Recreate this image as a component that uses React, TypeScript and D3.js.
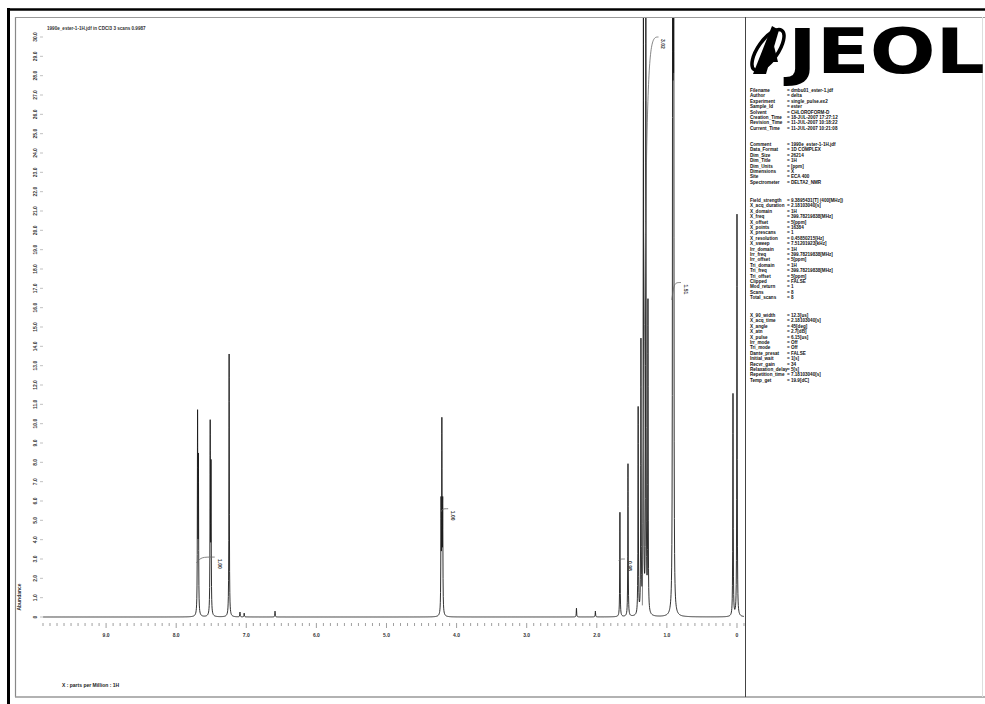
import * as d3 from 'd3';
import { useMemo } from 'react';

// peak list (ppm, abundance)
const peakPpm = [7.695, 7.683, 7.515, 7.503, 7.245, 7.09, 7.03, 6.59, 4.222, 4.21, 4.198, 2.29, 2.02,
  1.67, 1.555, 1.41, 1.37, 1.335, 1.30, 1.27, 0.918, 0.91, 0.902, 0.057, 0.0];
const peakHeight = [10.2, 7.8, 9.7, 7.5, 13.6, 0.25, 0.2, 0.3, 5.5, 9.6, 5.5, 0.45, 0.3,
  5.4, 7.9, 10.7, 14, 32, 32, 16, 30, 36, 30, 11.5, 20.8];
const peakHalfWidth = 0.0032;

// integral marks
const integralStart = [7.71, 4.23, 1.69, 1.35, 0.93];
const integralEnd = [7.45, 4.12, 1.6, 1.12, 0.8];
const integralBase = [2.8, 5.4, 2.9, 0.6, 16.4];
const integralTop = [3.1, 5.6, 3.0, 30, 17.3];
const integralLabel = ['1.00', '1.00', '0.98', '3.02', '1.51'];

const ppmTicks = [9, 8, 7, 6, 5, 4, 3, 2, 1, 0];

const headerText = '1990e_ester-1-1H.jdf in CDCl3 3 scans 0.9987';
const xTitle = 'X : parts per Million : 1H';
const yTitle = 'Abundance';

const paramGroups = [
  [
    ['Filename', '= dmbu01_ester-1.jdf'],
    ['Author', '= delta'],
    ['Experiment', '= single_pulse.ex2'],
    ['Sample_Id', '= ester'],
    ['Solvent', '= CHLOROFORM-D'],
    ['Creation_Time', '= 18-JUL-2007 17:27:12'],
    ['Revision_Time', '= 11-JUL-2007 10:18:22'],
    ['Current_Time', '= 11-JUL-2007 10:21:08'],
  ],
  [
    ['Comment', '= 1990e_ester-1-1H.jdf'],
    ['Data_Format', '= 1D COMPLEX'],
    ['Dim_Size', '= 26214'],
    ['Dim_Title', '= 1H'],
    ['Dim_Units', '= [ppm]'],
    ['Dimensions', '= X'],
    ['Site', '= ECA 400'],
    ['Spectrometer', '= DELTA2_NMR'],
  ],
  [
    ['Field_strength', '= 9.3895431[T] (400[MHz])'],
    ['X_acq_duration', '= 2.18103040[s]'],
    ['X_domain', '= 1H'],
    ['X_freq', '= 399.78219838[MHz]'],
    ['X_offset', '= 5[ppm]'],
    ['X_points', '= 16384'],
    ['X_prescans', '= 1'],
    ['X_resolution', '= 0.45850215[Hz]'],
    ['X_sweep', '= 7.51201923[kHz]'],
    ['Irr_domain', '= 1H'],
    ['Irr_freq', '= 399.78219838[MHz]'],
    ['Irr_offset', '= 5[ppm]'],
    ['Tri_domain', '= 1H'],
    ['Tri_freq', '= 399.78219838[MHz]'],
    ['Tri_offset', '= 5[ppm]'],
    ['Clipped', '= FALSE'],
    ['Mod_return', '= 1'],
    ['Scans', '= 8'],
    ['Total_scans', '= 8'],
  ],
  [
    ['X_90_width', '= 12.3[us]'],
    ['X_acq_time', '= 2.18103040[s]'],
    ['X_angle', '= 45[deg]'],
    ['X_atn', '= 2.7[dB]'],
    ['X_pulse', '= 6.15[us]'],
    ['Irr_mode', '= Off'],
    ['Tri_mode', '= Off'],
    ['Dante_presat', '= FALSE'],
    ['Initial_wait', '= 1[s]'],
    ['Recvr_gain', '= 34'],
    ['Relaxation_delay', '= 5[s]'],
    ['Repetition_time', '= 7.18103040[s]'],
    ['Temp_get', '= 19.9[dC]'],
  ],
];
const groupTop = [92, 146, 202, 317];

const W = 985;
const H = 704;

export default function App() {
  const x = d3.scaleLinear().domain([9.9, -0.1]).range([43, 744]);
  const y = d3.scaleLinear().domain([0, 30]).range([617, 37]);

  const spectrum = useMemo(() => {
    const grid = d3.range(-0.1, 9.9, 0.003);
    peakPpm.forEach(c => grid.push(c, c - 0.0015, c + 0.0015));
    grid.sort((a, b) => a - b);
    return grid.map(p => {
      let v = 0;
      peakPpm.forEach((c, i) => {
        const d = (p - c) / peakHalfWidth;
        v += peakHeight[i] / (1 + d * d);
      });
      return [p, v] as [number, number];
    });
  }, []);

  const line = d3.line<[number, number]>()
    .x(d => x(d[0]))
    .y(d => y(d[1]));

  const minor = d3.range(-0.1, 9.9001, 0.1).map(v => Math.round(v * 10) / 10);
  const font = "'Liberation Sans', Arial, sans-serif";

  return (
    <svg width={W} height={H} style={{ position: 'absolute', left: 0, top: 0, background: '#fff' }}
      fontFamily={font}>
      <defs>
        <clipPath id="plot">
          <rect x={40} y={18} width={706} height={604} />
        </clipPath>
      </defs>
      <rect width={W} height={H} fill="#fff" />

      {/* page frame */}
      <line x1={8.5} y1={8} x2={8.5} y2={H} stroke="#000" strokeWidth={3} />
      <line x1={8} y1={9.5} x2={W} y2={9.5} stroke="#000" strokeWidth={2.5} />
      <line x1={15.5} y1={17} x2={15.5} y2={697} stroke="#888" strokeWidth={1.2} />
      <line x1={15} y1={17.5} x2={W} y2={17.5} stroke="#999" strokeWidth={1} />
      <line x1={15} y1={697} x2={W} y2={697} stroke="#999" strokeWidth={1.5} />
      <line x1={745.5} y1={17} x2={745.5} y2={697} stroke="#444" strokeWidth={1} />
      <line x1={982.5} y1={17} x2={982.5} y2={697} stroke="#ddd" strokeWidth={1} />

      <text x={47} y={30} fontSize={4.6} fontWeight="bold" fill="#333">{headerText}</text>

      {/* y axis */}
      {y.ticks(30).map(t => (
        <g key={t}>
          <line x1={40} x2={43} y1={y(t)} y2={y(t)} stroke="#999" strokeWidth={0.6} />
          <text transform={`translate(37,${y(t)}) rotate(-90)`} textAnchor="middle" fontSize={5}
            fontWeight="bold" fill="#333">{t === 0 ? '0' : t.toFixed(1)}</text>
        </g>
      ))}
      <text transform={`translate(21,597) rotate(-90)`} textAnchor="middle" fontSize={5}
        fontWeight="bold" fill="#333">{yTitle}</text>

      {/* x axis */}
      {minor.map(v => (
        <line key={v} x1={x(v)} x2={x(v)} y1={623} y2={ppmTicks.includes(v) ? 628 : 626}
          stroke="#777" strokeWidth={0.7} />
      ))}
      {ppmTicks.map(t => (
        <text key={t} x={x(t)} y={637} textAnchor="middle" fontSize={5} fontWeight="bold" fill="#333">
          {t === 0 ? '0' : t.toFixed(1)}
        </text>
      ))}
      <text x={62} y={687} fontSize={5} fontWeight="bold" fill="#222">{xTitle}</text>

      {/* spectrum */}
      <path d={line(spectrum) || ''} fill="none" stroke="#1a1a1a" strokeWidth={0.9} clipPath="url(#plot)" />

      {/* integrals */}
      {integralStart.map((s, i) => {
        const x0 = x(s), x1 = x(integralEnd[i]);
        const y0 = y(integralBase[i]), y1 = y(integralTop[i]);
        const dx = x1 - x0;
        return (
          <g key={i}>
            <path d={`M${x0},${y0} C${x0 + dx * 0.25},${y1} ${x0 + dx * 0.3},${y1} ${x1},${y1}`}
              fill="none" stroke="#666" strokeWidth={0.8} />
            <text transform={`translate(${x1 + 3},${y1 + 2}) rotate(90)`} fontSize={5}
              fontWeight="bold" fill="#333">{integralLabel[i]}</text>
          </g>
        );
      })}

      {/* JEOL panel */}
      <g>
        <ellipse cx={768} cy={50} rx={10} ry={24} transform="rotate(35,768,50)"
          fill="none" stroke="#000" strokeWidth={3.5} />
        <path d="M753,74 L772,26 L779,30 L766,74 Z" fill="#000" />
        <path d="M766,62 L774,46 L778,62 Z" fill="#000" />
        <text x={788} y={73} fontSize={62} fontWeight="bold" fontFamily="'DejaVu Sans', sans-serif"
          textLength={197} lengthAdjust="spacingAndGlyphs" fill="#000">JEOL</text>
      </g>
      {paramGroups.map((g, gi) => g.map((row, ri) => (
        <g key={`${gi}-${ri}`}>
          <text x={750} y={groupTop[gi] + ri * 5.4} fontSize={4.6} fontWeight="bold" fill="#111">{row[0]}</text>
          <text x={787} y={groupTop[gi] + ri * 5.4} fontSize={4.6} fontWeight="bold" fill="#111">{row[1]}</text>
        </g>
      )))}
    </svg>
  );
}
